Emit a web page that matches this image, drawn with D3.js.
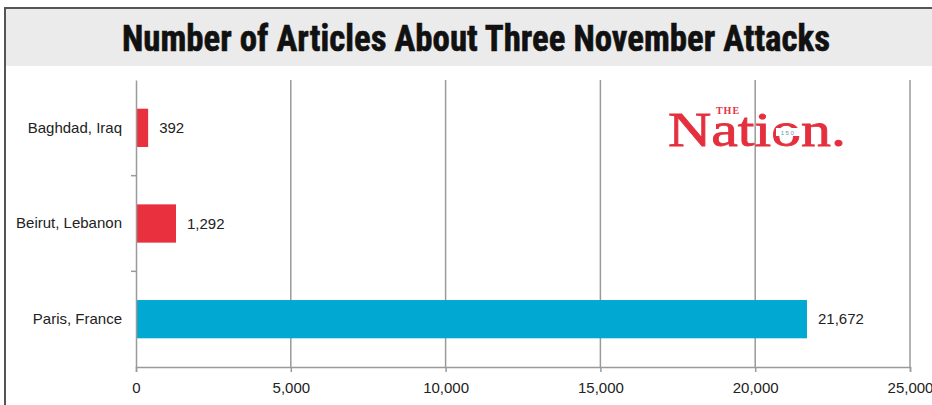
<!DOCTYPE html>
<html>
<head>
<meta charset="utf-8">
<script src="https://cdn.jsdelivr.net/npm/d3@7"></script>
<style>
  html, body { margin: 0; padding: 0; background: #fff; }
  svg { display: block; }
</style>
</head>
<body>
<div id="chart"></div>
<script>
// Data
const cities = ['Baghdad, Iraq', 'Beirut, Lebanon', 'Paris, France'];
const articles = [392, 1292, 21672];
const barColors = ['#e8303f', '#e8303f', '#00a8d2'];
const xTicks = [0, 5000, 10000, 15000, 20000, 25000];

const width = 932;
const height = 405;
const margin = {top: 80, left: 136, right: 22, bottom: 38};
const labelFont = '"Liberation Sans", Arial, sans-serif';

const svg = d3.select('#chart')
  .append('svg')
  .attr('width', width)
  .attr('height', height);

// frame and title band
svg.append('rect')
  .attr('x', 5).attr('y', 8)
  .attr('width', width + 10).attr('height', 58)
  .attr('fill', '#ebebeb');

svg.append('path')
  .attr('d', `M5,${height + 5} V8 H${width + 5}`)
  .attr('fill', 'none')
  .attr('stroke', '#555')
  .attr('stroke-width', 2);

svg.append('text')
  .attr('x', 476)
  .attr('y', 51)
  .attr('text-anchor', 'middle')
  .attr('font-family', '"Liberation Sans Narrow", "Roboto Condensed", "Liberation Sans", Arial, sans-serif')
  .attr('font-weight', 'bold')
  .attr('font-size', 37)
  .attr('textLength', 708)
  .attr('lengthAdjust', 'spacingAndGlyphs')
  .attr('fill', '#111')
  .attr('stroke', '#111')
  .attr('stroke-width', 0.6)
  .text('Number of Articles About Three November Attacks');

const x = d3.scaleLinear()
  .domain([0, 25000])
  .range([margin.left, width - margin.right]);

const y = d3.scaleBand()
  .domain(cities)
  .range([margin.top, height - margin.bottom])
  .paddingInner(0.6)
  .paddingOuter(0.3);

// gridlines
svg.append('g')
  .selectAll('line')
  .data(xTicks.slice(1))
  .enter()
  .append('line')
  .attr('x1', d => x(d)).attr('x2', d => x(d))
  .attr('y1', margin.top).attr('y2', height - margin.bottom)
  .attr('stroke', '#9a9a9a')
  .attr('stroke-width', 1.5);

// bars
svg.append('g')
  .selectAll('rect')
  .data(articles)
  .enter()
  .append('rect')
  .attr('x', x(0))
  .attr('y', (d, i) => y(cities[i]))
  .attr('width', d => x(d) - x(0))
  .attr('height', y.bandwidth())
  .attr('fill', (d, i) => barColors[i]);

// value labels
svg.append('g')
  .selectAll('text')
  .data(articles)
  .enter()
  .append('text')
  .attr('x', d => x(d) + 11)
  .attr('y', (d, i) => y(cities[i]) + y.bandwidth() / 2)
  .attr('dy', '0.35em')
  .attr('font-family', labelFont)
  .attr('font-size', 15)
  .attr('fill', '#222')
  .text(d => d3.format(',')(d));

// x axis
const xAxis = svg.append('g')
  .attr('transform', `translate(0,${height - margin.bottom})`)
  .call(d3.axisBottom(x).tickValues(xTicks).tickFormat(d3.format(',')).tickSize(5).tickPadding(10));
xAxis.select('.domain').attr('stroke', '#9a9a9a').attr('stroke-width', 1.5);
xAxis.selectAll('.tick line').attr('stroke', '#9a9a9a').attr('stroke-width', 1.5);
xAxis.selectAll('text')
  .attr('font-family', labelFont)
  .attr('font-size', 15)
  .attr('fill', '#222');

// y axis
const yAxis = svg.append('g')
  .attr('transform', `translate(${margin.left},0)`)
  .call(d3.axisLeft(y).tickSize(0).tickPadding(14));
yAxis.select('.domain').attr('stroke', '#9a9a9a').attr('stroke-width', 1.5);
yAxis.selectAll('text')
  .attr('font-family', labelFont)
  .attr('font-size', 15)
  .attr('fill', '#222');

// band separator ticks on the category axis
const step = y.step();
svg.append('g')
  .selectAll('line')
  .data(cities.slice(1))
  .enter()
  .append('line')
  .attr('x1', margin.left - 5).attr('x2', margin.left)
  .attr('y1', d => y(d) - step * y.paddingInner() / 2)
  .attr('y2', d => y(d) - step * y.paddingInner() / 2)
  .attr('stroke', '#9a9a9a')
  .attr('stroke-width', 1.5);

// logo
const logo = svg.append('g').attr('fill', '#e4303e');
logo.append('text')
  .attr('x', 728).attr('y', 114)
  .attr('text-anchor', 'middle')
  .attr('font-family', '"Liberation Serif", "DejaVu Serif", serif')
  .attr('font-weight', 'bold')
  .attr('font-size', 10)
  .attr('letter-spacing', 1)
  .text('THE');
logo.append('text')
  .attr('x', 668).attr('y', 146)
  .attr('font-family', '"Liberation Serif", "DejaVu Serif", serif')
  .attr('font-size', 48)
  .attr('textLength', 178)
  .attr('lengthAdjust', 'spacingAndGlyphs')
  .attr('stroke', '#e4303e')
  .attr('stroke-width', 0.8)
  .text('Nation.');
logo.append('rect')
  .attr('x', 776).attr('y', 128)
  .attr('width', 24).attr('height', 8)
  .attr('fill', '#fff');
logo.append('text')
  .attr('x', 788).attr('y', 134.5)
  .attr('text-anchor', 'middle')
  .attr('font-family', labelFont)
  .attr('font-size', 6)
  .attr('letter-spacing', 1.5)
  .attr('fill', '#5a9bb0')
  .text('150');
</script>
</body>
</html>
